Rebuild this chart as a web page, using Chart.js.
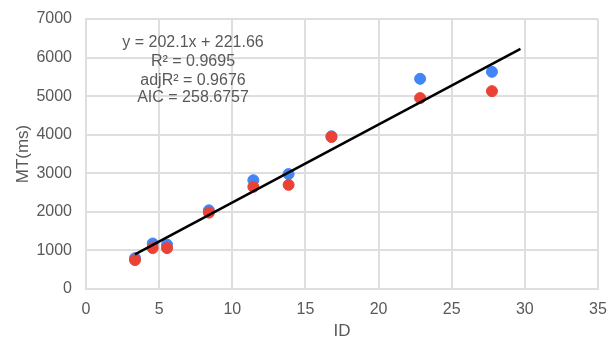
<!DOCTYPE html>
<html>
<head>
<meta charset="utf-8">
<script src="https://cdn.jsdelivr.net/npm/chart.js@4"></script>
<style>
  body { margin: 0; background: #fff; }
  #wrap { width: 616px; height: 343px; }
</style>
</head>
<body>
<div id="wrap"><canvas id="myChart" width="616" height="343"></canvas></div>
<script>
// valores
const idValores = [3.35, 4.56, 5.54, 8.4, 11.44, 13.85, 16.78, 22.84, 27.75]
const mtAzul = [800, 1180, 1150, 2040, 2820, 2980, 3960, 5450, 5630]
const mtRojo = [750, 1060, 1060, 1980, 2650, 2700, 3940, 4950, 5130]

// recta de regresion (extremos)
const trendX = [3.35, 29.7]
const trendY = [899, 6224]

const textoRegresion = [
    "y = 202.1x + 221.66",
    "R\u00b2 = 0.9695",
    "adjR\u00b2 = 0.9676",
    "AIC = 258.6757"
]

const fuente = "'Liberation Sans', Arial, sans-serif"
const gris = "#595959"
const rejilla = "#dedede"
const transparente = "rgba(0,0,0,0)"

function puntos(xs, ys) {
    return xs.map((x, i) => ({ x: x, y: ys[i] }))
}

const pluginTexto = {
    id: "textoRegresion",
    afterDraw(chart) {
        let ctx = chart.ctx
        ctx.save()
        ctx.font = "16px " + fuente
        ctx.fillStyle = gris
        ctx.textAlign = "center"
        ctx.textBaseline = "middle"
        const ys = [43, 62, 81, 98]
        textoRegresion.forEach((t, i) => ctx.fillText(t, 193, ys[i]))
        ctx.restore()
    }
}

let ctx = document.getElementById("myChart").getContext("2d")

let myChart = new Chart(ctx, {
    type: "scatter",
    data: {
        datasets: [
            {
                type: "line",
                label: "Tendencia",
                data: puntos(trendX, trendY),
                borderColor: "#000000",
                borderWidth: 2.5,
                pointRadius: 0,
                fill: false
            },
            {
                label: "Rojo",
                data: puntos(idValores, mtRojo),
                backgroundColor: "#EA4335",
                borderColor: "#EA4335",
                pointRadius: 5.5
            },
            {
                label: "Azul",
                data: puntos(idValores, mtAzul),
                backgroundColor: "#4285F4",
                borderColor: "#4285F4",
                pointRadius: 5.5
            }
        ]
    },
    options: {
        responsive: false,
        animation: false,
        layout: { padding: { top: 19, right: 18, left: 0, bottom: 0 } },
        plugins: {
            legend: { display: false },
            tooltip: { enabled: false }
        },
        scales: {
            x: {
                type: "linear",
                min: 0,
                max: 35,
                ticks: { stepSize: 5, color: gris, font: { family: fuente, size: 16 }, padding: 5,
                    callback: (v) => String(v) },
                grid: { color: rejilla, lineWidth: 2, drawTicks: true, tickLength: 6, tickColor: transparente },
                border: { color: rejilla, width: 2 },
                title: { display: true, text: "ID", color: gris, font: { family: fuente, size: 17 }, padding: { top: 0, bottom: 1 } },
                afterFit: (s) => { s.height = 54 }
            },
            y: {
                min: 0,
                max: 7000,
                ticks: { stepSize: 1000, color: gris, font: { family: fuente, size: 16 }, padding: 5,
                    callback: (v) => String(v) },
                grid: { color: rejilla, lineWidth: 2, drawTicks: true, tickLength: 9, tickColor: transparente },
                border: { color: rejilla, width: 2 },
                title: { display: true, text: "MT(ms)", color: gris, font: { family: fuente, size: 17 }, padding: { top: 13, bottom: 0 } },
                afterFit: (s) => { s.width = 86 }
            }
        }
    },
    plugins: [pluginTexto]
})
</script>
</body>
</html>
